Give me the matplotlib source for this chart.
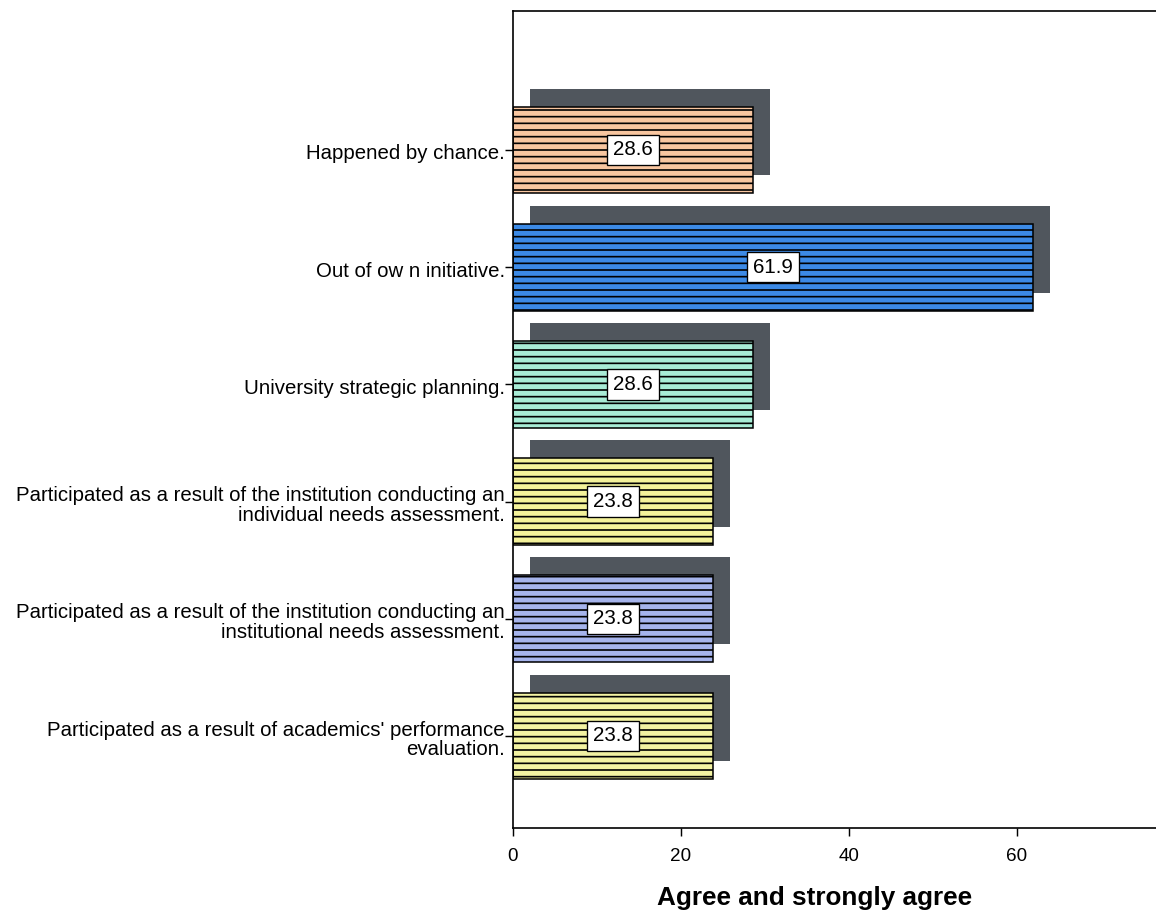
#Libraries
import numpy as np
import matplotlib
matplotlib.use('Agg')
import matplotlib.pyplot as plt

#Data
labels=['Happened by chance.',
        'Out of ow n initiative.',
        'University strategic planning.',
        'Participated as a result of the institution conducting an\nindividual needs assessment.',
        'Participated as a result of the institution conducting an\ninstitutional needs assessment.',
        "Participated as a result of academics' performance\nevaluation."]
values=[28.6,61.9,28.6,23.8,23.8,23.8]
colors=['#f8c6a0','#3c8ae6','#a8ecd6','#f4f29a','#a6b4ec','#f2f2a2']
xticks=[0,20,40,60]

#Style
plt.rcParams['font.family']=['Liberation Sans','DejaVu Sans']
plt.rcParams['hatch.linewidth']=1.5
plt.rcParams['hatch.color']='black'

DPI=80
fig=plt.figure(figsize=(1156/DPI,912/DPI),dpi=DPI)
ax=fig.add_axes([513/1156,1-828/912,1-513/1156,(828-11)/912])

y=np.arange(len(values))
h=0.74

#Shadow bars
ax.barh(y-0.154,values,height=h,left=2.0,color='#50565d',edgecolor='none',zorder=1)
#Main bars
ax.barh(y,values,height=h,color=colors,edgecolor='black',linewidth=1.4,hatch='--',zorder=2)

#Value labels
for i,v in enumerate(values):
    ax.text(v/2,i,f'{v:.1f}',ha='center',va='center',fontsize=18.5,zorder=4,
            bbox=dict(boxstyle='square,pad=0.28',facecolor='white',edgecolor='black',linewidth=1.2))

#Axes
ax.set_xlim(0,76.55)
ax.set_ylim(5.785,-1.186)
ax.set_xticks(xticks)
ax.set_xticklabels([str(t) for t in xticks],fontsize=17)
ax.set_yticks(y)
ax.set_yticklabels([])
ax.tick_params(axis='both',direction='out',length=7,width=1.3,color='black')
ax.tick_params(axis='x',pad=11)
ax.spines['right'].set_visible(False)
for s in ['left','top','bottom']:
    ax.spines[s].set_linewidth(1.5)

#Category labels
for i,lab in enumerate(labels):
    ax.annotate(lab,xy=(0,i),xycoords=('axes fraction','data'),xytext=(-7.5,-3.5),
                textcoords='offset points',ha='right',va='center',fontsize=18.3,
                linespacing=1.05,multialignment='right')

fig.text(815/1156,1-898/912,'Agree and strongly agree',ha='center',va='center',
         fontsize=23.5,fontweight='bold')

fig.savefig('out.png',dpi=DPI,facecolor='white')
